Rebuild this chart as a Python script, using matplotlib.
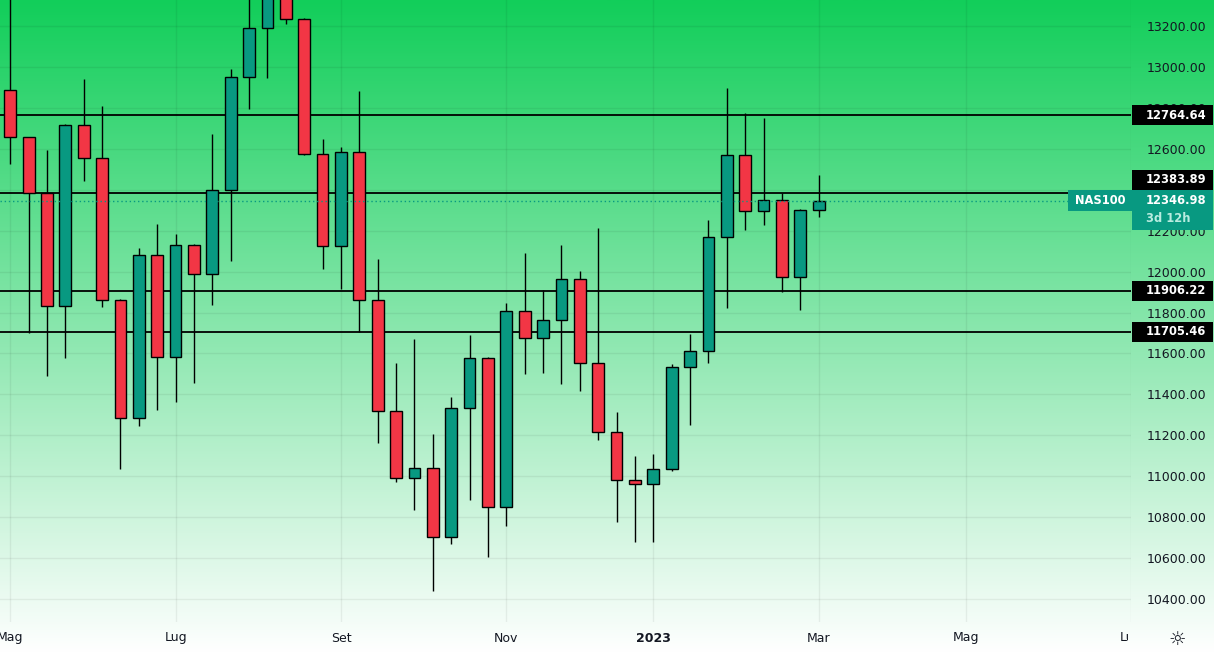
import matplotlib
matplotlib.use("Agg")
import matplotlib.pyplot as plt
import numpy as np
from matplotlib.patches import Rectangle
from matplotlib.transforms import blended_transform_factory, Bbox

# weekly NAS100 candles, May 2022 -> Mar 2023
opens = [12887, 12657, 12384, 11831, 12716, 12555, 11861, 11284, 12081, 11582,
         12130, 11988, 12398, 12951, 13190, 13440, 13234, 12574, 12125, 12584,
         11861, 11318, 10991, 11040, 10702, 11333, 11577, 10849, 11807, 11675,
         11763, 11963, 11553, 11216, 10981, 10961, 11035, 11533, 11612, 12169,
         12569, 12296, 12350, 11973, 12301]
highs = [13400, 12660, 12594, 12721, 12941, 12809, 11865, 12115, 12232, 12183,
         12135, 12672, 12990, 13380, 13480, 13470, 13240, 12648, 12609, 12882,
         12061, 11553, 11670, 11206, 11387, 11690, 11582, 11846, 12090, 11910,
         12130, 12002, 12213, 11313, 11098, 11108, 11548, 11695, 12252, 12897,
         12775, 12750, 12384, 12306, 12472]
lows = [12526, 11700, 11489, 11577, 12442, 11827, 11035, 11245, 11324, 11364,
        11456, 11836, 12051, 12794, 12946, 13210, 12569, 12012, 11915, 11705,
        11162, 10971, 10834, 10438, 10668, 10883, 10605, 10756, 11499, 11504,
        11450, 11416, 11177, 10776, 10678, 10678, 11025, 11250, 11553, 11822,
        12203, 12227, 11900, 11812, 12266]
closes = [12657, 12384, 11831, 12716, 12555, 11861, 11284, 12081, 11582, 12130,
          11988, 12398, 12951, 13190, 13420, 13234, 12574, 12125, 12584, 11861,
          11318, 10991, 11040, 10702, 11333, 11577, 10849, 11807, 11675, 11763,
          11963, 11553, 11216, 10981, 10961, 11035, 11533, 11612, 12169, 12569,
          12296, 12350, 11973, 12301, 12346.98]

levels = [12764.64, 12383.89, 11906.22, 11705.46]
last_price = 12346.98
symbol = "NAS100"
countdown = "3d 12h"

month_pos = [0, 9, 18, 27, 35, 44, 52, 61]
month_labels = ["Mag", "Lug", "Set", "Nov", "2023", "Mar", "Mag", "Lug"]
price_ticks = np.arange(10400, 13201, 200)

RED = "#F23645"
GREEN = "#089981"
TXT = "#131722"

W, H = 1214, 653
AX_W, AX_H = 1131, 622
fig = plt.figure(figsize=(W / 100, H / 100), dpi=100)

# green -> white gradient behind everything
bg = fig.add_axes([0, 0, 1, 1])
bg.axis("off")
top = np.array([18, 206, 90]) / 255
t = np.linspace(0, 1, 256)[:, None]
grad = top * (1 - t) + t
bg.imshow(grad[:, None, :], aspect="auto", extent=[0, 1, 0, 1])

ax = fig.add_axes([0, (H - AX_H) / H, AX_W / W, AX_H / H])
ax.set_facecolor("none")
ymin, ymax = 10288, 13327
ax.set_xlim(-0.558, 60.74)
ax.set_ylim(ymin, ymax)
upx = (ymax - ymin) / AX_H  # price units per pixel

for s in ax.spines.values():
    s.set_visible(False)
ax.yaxis.tick_right()
ax.set_yticks(price_ticks)
ax.set_yticklabels([f"{v:.2f}" for v in price_ticks])
ax.tick_params(axis="y", length=0, pad=11, labelsize=9, labelcolor=TXT)
ax.set_xticks(month_pos)
ax.tick_params(axis="x", length=0, labelbottom=False)
ax.grid(True, color="black", alpha=0.06, lw=1)

# candles
idx = np.arange(len(opens))
o = np.array(opens); c = np.array(closes)
cols = [GREEN if cc >= oo else RED for oo, cc in zip(o, c)]
ax.vlines(idx, lows, highs, color="black", lw=1, zorder=2)
ax.bar(idx, np.abs(c - o), bottom=np.minimum(o, c), width=0.64, color=cols,
       edgecolor="black", linewidth=1, zorder=3)

# horizontal levels
for lv in levels:
    ax.axhline(lv, color="black", lw=1.3, zorder=1.5)
ax.axhline(last_price, color=GREEN, lw=1, ls=(0, (1, 2)), zorder=4)

# right-side labels
tr = blended_transform_factory(ax.transAxes, ax.transData)
bx0 = 1 + 1 / AX_W
bw = 81 / AX_W
tx = 1 + 15 / AX_W
shift = {12383.89: 13.3}
for lv in levels:
    yc = lv + shift.get(lv, 0) * upx
    ax.add_patch(Rectangle((bx0, yc - 10 * upx), bw, 20 * upx, transform=tr,
                           fc="black", ec="none", clip_on=False, zorder=6))
    ax.text(tx, yc, f"{lv:.2f}", transform=tr, color="white", fontsize=8.3,
            fontweight="bold", va="center", ha="left", clip_on=False, zorder=7)

ax.add_patch(Rectangle((1 - 63 / AX_W, last_price - 10 * upx), 64 / AX_W, 20.5 * upx,
                       transform=tr, fc=GREEN, ec="none", clip_on=False, zorder=6))
ax.add_patch(Rectangle((bx0, last_price - 29.3 * upx), bw, 39.8 * upx, transform=tr,
                       fc=GREEN, ec="none", clip_on=False, zorder=6))
ax.text(1 - 31 / AX_W, last_price, symbol, transform=tr, color="white",
        fontsize=8.3, fontweight="bold", va="center", ha="center", clip_on=False, zorder=7)
ax.text(tx, last_price, f"{last_price:.2f}", transform=tr, color="white",
        fontsize=8.3, fontweight="bold", va="center", ha="left", clip_on=False, zorder=7)
ax.text(tx, last_price - 18 * upx, countdown, transform=tr, color="#b8ece0",
        fontsize=8.3, fontweight="bold", va="center", ha="left", clip_on=False, zorder=7)

# time axis labels (last one is cut by the price scale)
trx = blended_transform_factory(ax.transData, ax.transAxes)
clip = Bbox.from_extents(0, 0, AX_W - 3, H)
for p, lab in zip(month_pos, month_labels):
    tt = ax.text(p, -16 / AX_H, lab, transform=trx, fontsize=9, color=TXT,
                 fontweight="bold" if lab.isdigit() else "normal",
                 ha="center", va="center", clip_on=True)
    tt.set_clip_box(clip)

fig.text(1177 / W, 14 / H, "\u263C", fontsize=14, color=TXT, ha="center", va="center")

fig.savefig("out.png", dpi=100)
